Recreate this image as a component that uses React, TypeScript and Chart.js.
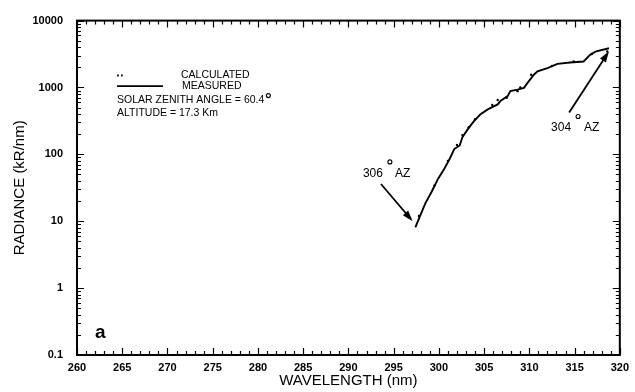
import { useEffect, useRef } from 'react';
import { Chart, registerables } from 'chart.js';

Chart.register(...registerables);

// ---- data ----
const measuredWavelength = [
  297.4, 297.9, 298.5, 299.2, 299.9, 300.6, 301.2, 301.7, 302.3, 302.6, 303.2, 303.9,
  304.6, 305.4, 306.5, 306.8, 307.6, 307.9, 308.7, 309.4, 309.8, 310.5, 310.9, 312.0,
  313.1, 314.5, 316.0, 316.7, 317.3, 318.8,
];
const measuredRadiance = [
  8.1, 11.8, 18.5, 27.6, 43, 61, 86, 120, 136, 180, 238, 317,
  397, 471, 558, 627, 743, 881, 931, 986, 1169, 1552, 1742, 1950,
  2258, 2366, 2449, 3069, 3443, 3855,
];
const calculatedWavelength = [
  297.8, 299.5, 301.0, 302.0, 302.6, 303.3, 304.0, 305.9, 306.5, 307.5, 308.7,
  309.0, 310.2, 312.5, 314.9, 316.9, 318.6,
];
const calculatedRadiance = [
  12, 34, 80, 138, 194, 255, 335, 547, 649, 700, 881,
  1000, 1552, 2100, 2449, 3170, 3443,
];
const xTickValues = [260, 265, 270, 275, 280, 285, 290, 295, 300, 305, 310, 315, 320];
const yTickLabels = ['0.1', '1', '10', '100', '1000', '10000'];
const yDecades = [0.1, 1, 10, 100, 1000, 10000];

const X_MIN = 260;
const X_MAX = 320;
const FONT = "'Liberation Sans', Arial, sans-serif";

const framePlugin = {
  id: 'frameTicks',
  afterDatasetsDraw(chart: any) {
    const { ctx, chartArea: a, scales } = chart;
    const xs = scales.x;
    const ys = scales.y;
    ctx.save();
    ctx.strokeStyle = '#000';
    ctx.lineWidth = 2;
    ctx.strokeRect(a.left, a.top, a.right - a.left, a.bottom - a.top);
    ctx.lineWidth = 1.2;
    ctx.beginPath();
    for (let v = X_MIN; v <= X_MAX; v += 1) {
      const px = Math.round(xs.getPixelForValue(v)) + 0.5;
      const len = v % 5 === 0 ? 7 : 4;
      ctx.moveTo(px, a.bottom);
      ctx.lineTo(px, a.bottom - len);
      ctx.moveTo(px, a.top);
      ctx.lineTo(px, a.top + len);
    }
    for (let i = 0; i < yDecades.length; i++) {
      const d = yDecades[i];
      const maxM = i === yDecades.length - 1 ? 1 : 9;
      for (let m = 1; m <= maxM; m++) {
        const py = Math.round(ys.getPixelForValue(d * m)) + 0.5;
        const len = m === 1 ? 7 : 4;
        ctx.moveTo(a.left, py);
        ctx.lineTo(a.left + len, py);
        ctx.moveTo(a.right, py);
        ctx.lineTo(a.right - len, py);
      }
    }
    ctx.stroke();
    ctx.restore();
  },
};

function arrow(ctx: CanvasRenderingContext2D, x1: number, y1: number, x2: number, y2: number) {
  const ang = Math.atan2(y2 - y1, x2 - x1);
  const hl = 11;
  const hw = 3.5;
  ctx.beginPath();
  ctx.moveTo(x1, y1);
  ctx.lineTo(x2 - Math.cos(ang) * hl * 0.8, y2 - Math.sin(ang) * hl * 0.8);
  ctx.stroke();
  ctx.beginPath();
  ctx.moveTo(x2, y2);
  ctx.lineTo(
    x2 - Math.cos(ang) * hl - Math.sin(ang) * hw,
    y2 - Math.sin(ang) * hl + Math.cos(ang) * hw
  );
  ctx.lineTo(
    x2 - Math.cos(ang) * hl + Math.sin(ang) * hw,
    y2 - Math.sin(ang) * hl - Math.cos(ang) * hw
  );
  ctx.closePath();
  ctx.fill();
}

function degree(ctx: CanvasRenderingContext2D, cx: number, cy: number) {
  ctx.save();
  ctx.lineWidth = 1.1;
  ctx.beginPath();
  ctx.arc(cx, cy, 2, 0, Math.PI * 2);
  ctx.stroke();
  ctx.restore();
}

const annotationPlugin = {
  id: 'annotations',
  afterDraw(chart: any) {
    const { ctx, chartArea: a, scales } = chart;
    const xs = scales.x;
    const ys = scales.y;
    const P = (wx: number, wy: number) => [xs.getPixelForValue(wx), ys.getPixelForValue(wy)];
    ctx.save();
    ctx.fillStyle = '#000';
    ctx.strokeStyle = '#000';
    ctx.textBaseline = 'middle';
    ctx.textAlign = 'left';

    // legend block
    const lx = a.left + 40;
    ctx.fillRect(lx, a.top + 54, 1.8, 1.8);
    ctx.fillRect(lx + 4, a.top + 54, 1.8, 1.8);
    ctx.lineWidth = 1.8;
    ctx.beginPath();
    ctx.moveTo(lx, a.top + 65.5);
    ctx.lineTo(lx + 46, a.top + 65.5);
    ctx.stroke();
    ctx.font = `10.5px ${FONT}`;
    ctx.fillText('CALCULATED', lx + 64, a.top + 55);
    ctx.fillText('MEASURED', lx + 65, a.top + 66);
    ctx.fillText('SOLAR ZENITH ANGLE = 60.4', lx, a.top + 80);
    const w1 = ctx.measureText('SOLAR ZENITH ANGLE = 60.4').width;
    degree(ctx, lx + w1 + 4, a.top + 75);
    ctx.fillText('ALTITUDE = 17.3 Km', lx, a.top + 93);

    // panel letter
    ctx.font = `bold 19px ${FONT}`;
    ctx.textBaseline = 'alphabetic';
    ctx.fillText('a', a.left + 18, a.bottom - 17);
    ctx.textBaseline = 'middle';

    // 306 AZ annotation
    ctx.font = `12px ${FONT}`;
    let [tx, ty] = P(291.6, 51);
    ctx.fillText('306', tx, ty);
    degree(ctx, tx + 27, ty - 12);
    ctx.fillText('AZ', tx + 32, ty);
    ctx.lineWidth = 1.8;
    let [ax1, ay1] = P(293.6, 36);
    let [ax2, ay2] = P(297.1, 10);
    arrow(ctx, ax1, ay1, ax2, ay2);

    // 304 AZ annotation
    [tx, ty] = P(312.4, 252);
    ctx.fillText('304', tx, ty);
    degree(ctx, tx + 27, ty - 11);
    ctx.fillText('AZ', tx + 33, ty);
    [ax1, ay1] = P(314.4, 421);
    [ax2, ay2] = P(318.8, 3478);
    arrow(ctx, ax1, ay1, ax2, ay2);

    ctx.restore();
  },
};

export default function App() {
  const canvasRef = useRef<HTMLCanvasElement | null>(null);

  useEffect(() => {
    const canvas = canvasRef.current;
    if (!canvas) return;
    const measured = measuredWavelength.map((w, i) => ({ x: w, y: measuredRadiance[i] }));
    const calculated = calculatedWavelength.map((w, i) => ({ x: w, y: calculatedRadiance[i] }));
    const isDecade = (v: number) => Math.abs(Math.log10(v) - Math.round(Math.log10(v))) < 1e-6;

    const chart = new Chart(canvas, {
      type: 'line',
      data: {
        datasets: [
          {
            label: 'MEASURED',
            data: measured,
            borderColor: '#000',
            borderWidth: 1.9,
            pointRadius: 0,
            tension: 0,
          },
          {
            label: 'CALCULATED',
            data: calculated,
            showLine: false,
            pointRadius: 1.2,
            pointBackgroundColor: '#000',
            pointBorderWidth: 0,
            borderColor: '#000',
          },
        ],
      },
      options: {
        animation: false,
        responsive: true,
        maintainAspectRatio: false,
        layout: { padding: { top: 18, right: 12, left: 0, bottom: 0 } },
        plugins: {
          legend: { display: false },
          tooltip: { enabled: false },
        },
        scales: {
          x: {
            type: 'linear',
            min: X_MIN,
            max: X_MAX,
            afterBuildTicks: (scale: any) => {
              scale.ticks = xTickValues.map((v) => ({ value: v }));
            },
            afterFit: (scale: any) => {
              scale.height = 37;
            },
            grid: { display: false, drawTicks: false },
            border: { display: false },
            ticks: {
              padding: 6,
              color: '#000',
              font: { family: FONT, size: 11, weight: 'bold' },
              maxRotation: 0,
              autoSkip: false,
              callback: (v: any) => String(v),
            },
            title: {
              display: true,
              text: 'WAVELENGTH (nm)',
              color: '#000',
              font: { family: FONT, size: 15 },
              padding: { top: 0, bottom: 2 },
            },
          },
          y: {
            type: 'logarithmic',
            min: 0.1,
            max: 10000,
            afterBuildTicks: (scale: any) => {
              scale.ticks = yDecades.map((v) => ({ value: v, major: true }));
            },
            afterFit: (scale: any) => {
              scale.width = 77;
            },
            grid: { display: false, drawTicks: false },
            border: { display: false },
            ticks: {
              padding: 14,
              color: '#000',
              font: { family: FONT, size: 11, weight: 'bold' },
              autoSkip: false,
              callback: (v: any) => {
                const n = Number(v);
                if (!isDecade(n)) return '';
                const idx = yDecades.findIndex((d) => Math.abs(d - n) / d < 1e-6);
                return idx >= 0 ? yTickLabels[idx] : '';
              },
            },
            title: {
              display: true,
              text: 'RADIANCE (kR/nm)',
              color: '#000',
              font: { family: FONT, size: 15 },
              padding: { top: 11, bottom: 0 },
            },
          },
        },
      },
      plugins: [framePlugin, annotationPlugin],
    } as any);

    return () => chart.destroy();
  }, []);

  return (
    <div style={{ position: 'fixed', left: 0, top: 0, width: 635, height: 392, background: '#fff' }}>
      <canvas ref={canvasRef} />
    </div>
  );
}
